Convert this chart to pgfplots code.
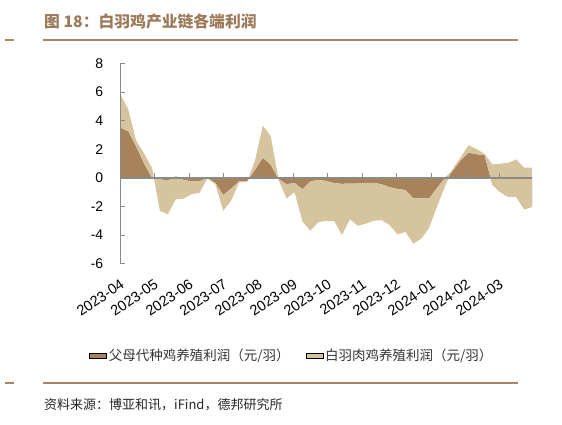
\documentclass[border=0pt]{standalone}
\usepackage{pgfplots}
\pgfplotsset{compat=1.18}
\usepgfplotslibrary{fillbetween}
\usepackage{pgfplotstable}
\usepackage{fontspec}
\setmainfont{Liberation Sans}
\newfontfamily\cjk{Noto Sans CJK SC}

\definecolor{ppbrown}{HTML}{A7825B}
\definecolor{bcbeige}{HTML}{D6C49E}
\definecolor{rulebrown}{HTML}{A88565}
\definecolor{titlebrown}{HTML}{9C7A5A}
\definecolor{axisgray}{HTML}{8A8A8A}

% weekly data, day counted from 2023-04-01
% pp = parent stock profit, bc = broiler profit (yuan/bird), stacked
\pgfplotstableread{
day  pp     bc
0    3.50   2.35
7    3.26   1.52
14   2.20   0.40
21   1.00   0.70
28   0.00   0.70
35  -0.10  -2.20
42  -0.20  -2.35
49   0.10  -1.60
56  -0.15  -1.30
63  -0.25  -0.90
70  -0.25  -0.80
77   0.00  -0.05
84  -0.35  -0.10
91  -1.20  -1.10
98  -0.75  -0.85
105 -0.25  -0.07
112 -0.25  -0.05
119  0.55   0.65
126  1.40   2.25
133  0.90   2.00
140 -0.10  -0.05
147 -0.45  -1.00
154 -0.35  -0.65
161 -0.80  -2.25
168 -0.25  -3.45
175 -0.15  -2.95
182 -0.22  -2.78
189 -0.37  -2.63
196 -0.42  -3.58
203 -0.40  -2.50
210 -0.40  -2.95
217 -0.35  -2.85
224 -0.35  -2.65
231 -0.45  -2.50
238 -0.65  -2.65
245 -0.78  -3.17
252 -0.85  -2.93
259 -1.42  -3.18
266 -1.44  -2.81
273 -1.44  -2.06
280 -0.70  -1.30
287  0.00  -0.60
294  0.50   0.15
301  1.25   0.20
308  1.75   0.54
315  1.65   0.35
322  1.58   0.10
329 -0.50   1.43
336 -1.00   1.99
343 -1.33   2.38
350 -1.33   2.61
357 -2.19   2.91
364 -2.02   2.74
}\profit

\begin{document}
\begin{tikzpicture}[x=1pt,y=1pt]
\begin{axis}[
  scale only axis, width=411.8pt, height=200.4pt,
  xmin=0, xmax=364, ymin=-6, ymax=8,
  axis lines*=left,
  axis line style={axisgray, -},
  x axis line style={draw=none},
  axis on top,
  tick align=inside,
  major tick length=5pt,
  tick style={axisgray, line width=0.8pt},
  xtick={0,30,61,91,122,153,183,214,244,275,306,335},
  xticklabels={2023-04,2023-05,2023-06,2023-07,2023-08,2023-09,2023-10,2023-11,2023-12,2024-01,2024-02,2024-03},
  xtick style={yshift=85.886pt},
  xticklabel style={xshift=5pt, yshift=-17pt, rotate=34, anchor=east,
                    font=\fontsize{14.5}{16}\selectfont},
  ytick={-6,-4,-2,0,2,4,6,8},
  yticklabel style={xshift=-13.5pt, font=\fontsize{14}{16}\selectfont},
  /pgf/number format/assume math mode=true,
  extra y ticks={0},
  extra y tick labels={},
  extra y tick style={grid=major, major grid style={axisgray, line width=1.5pt},
                      major tick length=0pt},
  legend columns=2,
  legend style={at={(-0.083,-0.405)}, anchor=north west, draw=none, fill=none,
                font=\cjk\fontsize{13.5}{15}\selectfont, text=black!80,
                /tikz/every even column/.append style={column sep=14pt}},
  legend cell align=left,
  legend image code/.code={\fill[#1] (0pt,-3.5pt) rectangle (7pt,3.5pt);},
]
\addplot[name path=zero, draw=none, forget plot] table[x=day, y expr=0] {\profit};
\addplot[name path=pp, draw=none, forget plot] table[x=day, y=pp] {\profit};
\addplot[name path=tot, draw=none, forget plot]
  table[x=day, y expr=\thisrow{pp}+\thisrow{bc}] {\profit};
\addplot[fill=ppbrown, draw=none] fill between[of=pp and zero];
\addlegendentry{父母代种鸡养殖利润（元/羽）}
\addplot[fill=bcbeige, draw=none] fill between[of=tot and pp];
\addlegendentry{白羽肉鸡养殖利润（元/羽）}
\coordinate (SW) at (axis cs:0,-6);
\end{axis}

\begin{scope}[shift={(SW)}, xshift=-120.3pt, yshift=-161.3pt]
\path (0,0) rectangle (562,425);
\node[anchor=west, text=titlebrown, inner sep=0pt,
      font=\cjk\bfseries\fontsize{15.8}{18}\selectfont] at (44,403) {图 18：白羽鸡产业链各端利润};
\draw[rulebrown, line width=2] (43,385) -- (518,385);
\draw[rulebrown, line width=2] (5,385) -- (14,385);
\draw[rulebrown, line width=2] (43,42) -- (518,42);
\draw[rulebrown, line width=2] (5,42) -- (14,42);
\node[anchor=west, inner sep=0pt, text=black!85,
      font=\cjk\fontsize{13}{15}\selectfont] at (44,20) {资料来源：博亚和讯，iFind，德邦研究所};
\end{scope}
\end{tikzpicture}
\end{document}
